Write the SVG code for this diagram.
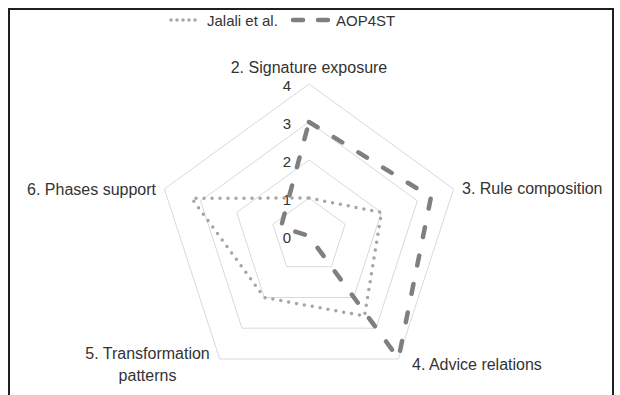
<svg xmlns="http://www.w3.org/2000/svg" width="620" height="395" viewBox="0 0 620 395">
<style>
text{font-family:"Liberation Sans",Arial,sans-serif;font-size:16px;fill:#333333}
.leg{font-size:15px}
.grid{fill:none;stroke:#d9d9d9;stroke-width:1}
.jal{fill:none;stroke:#a5a5a5;stroke-width:3.5;stroke-linecap:round;stroke-linejoin:round;stroke-dasharray:0 8}
.aop{fill:none;stroke:#7f7f7f;stroke-width:4.5;stroke-linecap:round;stroke-linejoin:round;stroke-dasharray:10 19}
.tick{text-anchor:middle;font-size:15px}
</style>
<rect x="9" y="9" width="604" height="400" fill="#ffffff" stroke="#1f1f1f" stroke-width="2"/>
<g id="legend">
<line x1="171" y1="20" x2="201" y2="20" class="jal" style="stroke-dasharray:0 6"/>
<text class="leg" x="207" y="25.5">Jalali et al.</text>
<line x1="293" y1="20" x2="328" y2="20" class="aop" style="stroke-dasharray:10 15"/>
<text class="leg" x="336" y="25.5">AOP4ST</text>
</g>
<g id="grid">
<polygon class="grid" points="309,198 345.1,224.3 331.3,266.7 286.7,266.7 272.9,224.3"/>
<polygon class="grid" points="309,160 381.3,212.5 353.7,297.5 264.3,297.5 236.7,212.5"/>
<polygon class="grid" points="309,122 417.4,200.8 376,328.2 242,328.2 200.6,200.8"/>
<polygon class="grid" points="309,84 453.6,189 398.3,359 219.7,359 164.4,189"/>
</g>
<g id="ticks">
<text class="tick" x="287" y="91">4</text>
<text class="tick" x="287" y="129">3</text>
<text class="tick" x="287" y="167">2</text>
<text class="tick" x="287" y="205">1</text>
<text class="tick" x="287" y="243">0</text>
</g>
<g id="connectors">
<path id="series-jalali" class="jal" d="M309,198 L381.5,212.5 L364.5,316 L264.3,297.5 L191.7,198.3 Z"/>
<path id="series-aop4st" class="aop" d="M309,122 L431,197 L398.5,358.5 L309,236 L281,227 Z"/>
</g>
<g id="axis-2"><text x="309" y="73" text-anchor="middle">2. Signature exposure</text></g>
<g id="axis-3"><text x="462" y="194">3. Rule composition</text></g>
<g id="axis-4"><text x="412" y="370">4. Advice relations</text></g>
<g id="axis-5"><text x="147.5" y="359" text-anchor="middle">5. Transformation</text><text x="147.5" y="381" text-anchor="middle">patterns</text></g>
<g id="axis-6"><text x="156" y="194.5" text-anchor="end">6. Phases support</text></g>
</svg>
